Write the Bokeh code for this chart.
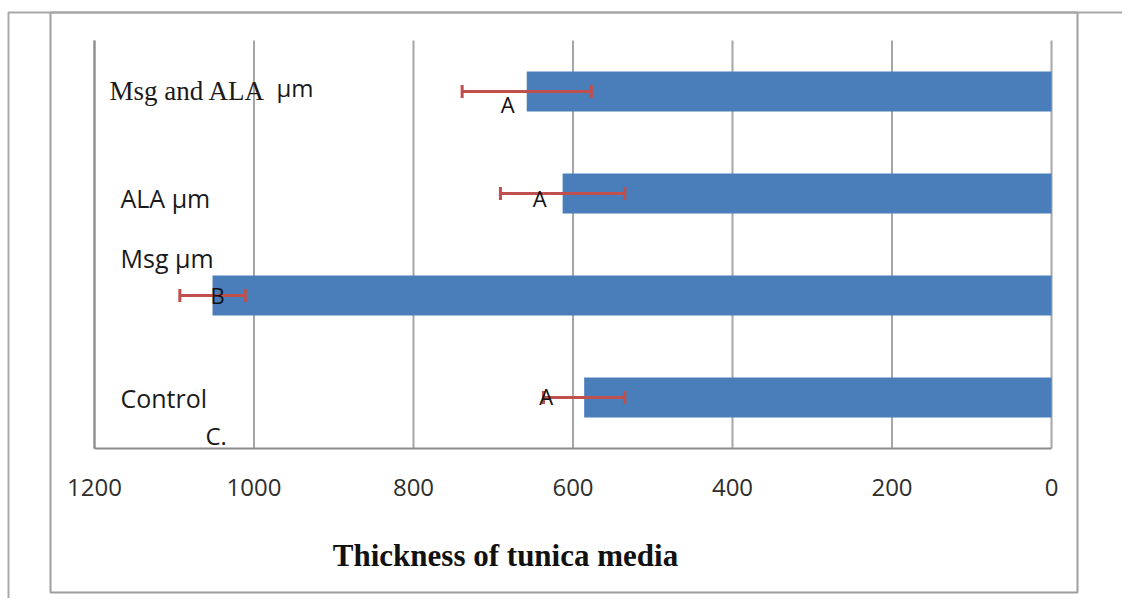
import numpy as np
from bokeh.plotting import figure
from bokeh.models import Range1d, FixedTicker, BoxAnnotation, ColumnDataSource
from bokeh.core.properties import value
from bokeh.embed import file_html
from bokeh.resources import INLINE

# ---- data ----
categories = ["Control", "Msg µm", "ALA µm", "Msg and ALA µm"]
thickness = [586, 1052, 613, 658]
errors = [51, 41, 78, 81]
letters = ["A", "B", "A", "A"]
x_ticks = [0, 200, 400, 600, 800, 1000, 1200]
axis_title = "Thickness of tunica media"
panel_tag = "C."

# ---- layout (canvas pixels) ----
W, H = 1122, 598
PX_X_MAX, PX_X_MIN = 94, 1051      # screen x of 1200 and of 0
PX_Y_TOP, PX_Y_BOT = 40, 448       # screen y of top / bottom of category band
kx = (PX_X_MIN - PX_X_MAX) / (x_ticks[-1] - x_ticks[0])
ncat = len(categories)
ky = (PX_Y_BOT - PX_Y_TOP) / ncat
x_start = x_ticks[-1] + PX_X_MAX / kx
x_end = x_ticks[0] - (W - PX_X_MIN) / kx
y_top = ncat + PX_Y_TOP / ky
y_bot = -(H - PX_Y_BOT) / ky


def px_x(px):
    return x_start - px / kx


def px_y(py):
    return y_top - py / ky


# ---- styles / offsets (screen px) ----
BAR = "#4A7EBB"
ERR = "#C0504D"
GRID = "#a6a6a6"
letter_dx = [-38, 5, -23, -19]
letter_dy = [-2, -1, 4, 12]
label_dy = [0, -38, 4]

ypos = list(np.arange(ncat) + 0.5)

src = ColumnDataSource(dict(
    y=ypos,
    val=thickness,
    lo=[v - e for v, e in zip(thickness, errors)],
    hi=[v + e for v, e in zip(thickness, errors)],
    letter=letters,
    dx=letter_dx,
    dy=letter_dy,
))

p = figure(width=W, height=H,
           x_range=Range1d(x_start, x_end), y_range=Range1d(y_bot, y_top),
           output_backend="svg", toolbar_location=None, min_border=0)
p.outline_line_color = None
p.background_fill_color = "white"
p.border_fill_color = "white"
p.xgrid.visible = False
p.ygrid.visible = False

# vertical grid lines at tick values over the category band
p.segment(x0=x_ticks, y0=[0] * len(x_ticks), x1=x_ticks, y1=[ncat] * len(x_ticks),
          line_color=GRID, line_width=2)

# bars
p.hbar(y="y", left=0, right="val", height=0.39, fill_color=BAR,
       line_color=None, source=src)

# error bars
p.segment(x0="lo", y0="y", x1="hi", y1="y", line_color=ERR,
          line_width=3, source=src)
for col in ("lo", "hi"):
    p.scatter(x=col, y="y", marker="dash", angle=np.pi / 2, size=13,
              line_color=ERR, line_width=3, source=src)

# significance letters
p.text(x="val", y="y", text="letter", x_offset="dx", y_offset="dy",
       text_font=value("Open Sans"), text_font_size="22px",
       text_align="center", text_baseline="middle", text_color="#111111",
       source=src)

# category labels drawn inside the plot
p.text(x=[x_ticks[-1]] * 3, y=ypos[:3], text=categories[:3],
       x_offset=26, y_offset=label_dy,
       text_font=value("Open Sans"), text_font_size="25px",
       text_align="left", text_baseline="middle", text_color="#1a1a1a")
serif_part, unit_part = categories[3].rsplit(" ", 1)
p.text(x=[x_ticks[-1]], y=[ypos[3]], text=[serif_part],
       x_offset=15, y_offset=-1,
       text_font=value("Liberation Serif"), text_font_size="27px",
       text_align="left", text_baseline="middle", text_color="#1a1a1a")
p.text(x=[x_ticks[-1]], y=[ypos[3]], text=[unit_part],
       x_offset=182, y_offset=-4,
       text_font=value("Open Sans"), text_font_size="24px",
       text_align="left", text_baseline="middle", text_color="#1a1a1a")

# panel tag
p.text(x=[x_ticks[-1]], y=[ypos[0]], text=[panel_tag],
       x_offset=111, y_offset=38,
       text_font=value("Open Sans"), text_font_size="24px",
       text_align="left", text_baseline="middle", text_color="#1a1a1a")

# axis title
p.text(x=[px_x(505)], y=[px_y(555)], text=[axis_title],
       text_font=value("Liberation Serif"), text_font_style="bold",
       text_font_size="31px", text_align="center", text_baseline="middle",
       text_color="#111111")

# axes drawn at fixed locations inside the canvas
p.xaxis.fixed_location = 0
p.xaxis.bounds = (x_ticks[0], x_ticks[-1])
p.xaxis.ticker = FixedTicker(ticks=x_ticks)
p.xaxis.major_tick_out = 0
p.xaxis.major_tick_in = 0
p.xaxis.minor_tick_line_color = None
p.xaxis.axis_line_color = "#8c8c8c"
p.xaxis.axis_line_width = 2
p.xaxis.major_label_text_font = "Open Sans"
p.xaxis.major_label_text_font_size = "24px"
p.xaxis.major_label_text_color = "#2e2e2e"
p.xaxis.major_label_standoff = 30

p.yaxis.fixed_location = x_ticks[-1]
p.yaxis.bounds = (0, ncat)
p.yaxis.ticker = FixedTicker(ticks=[])
p.yaxis.axis_line_color = "#8c8c8c"
p.yaxis.axis_line_width = 2
p.yaxis.major_tick_line_color = None
p.yaxis.minor_tick_line_color = None

# surrounding frame lines
p.add_layout(BoxAnnotation(left=px_x(50), right=px_x(1077),
                           top=px_y(12), bottom=px_y(592),
                           fill_color=None, line_color="#9e9e9e",
                           line_alpha=1.0, line_width=2))
p.add_layout(BoxAnnotation(left=px_x(8), right=px_x(W + 40),
                           top=px_y(12), bottom=px_y(H + 40),
                           fill_color=None, line_color="#a8a8a8",
                           line_alpha=1.0, line_width=2))

open("out.html", "w").write(file_html(p, INLINE))
